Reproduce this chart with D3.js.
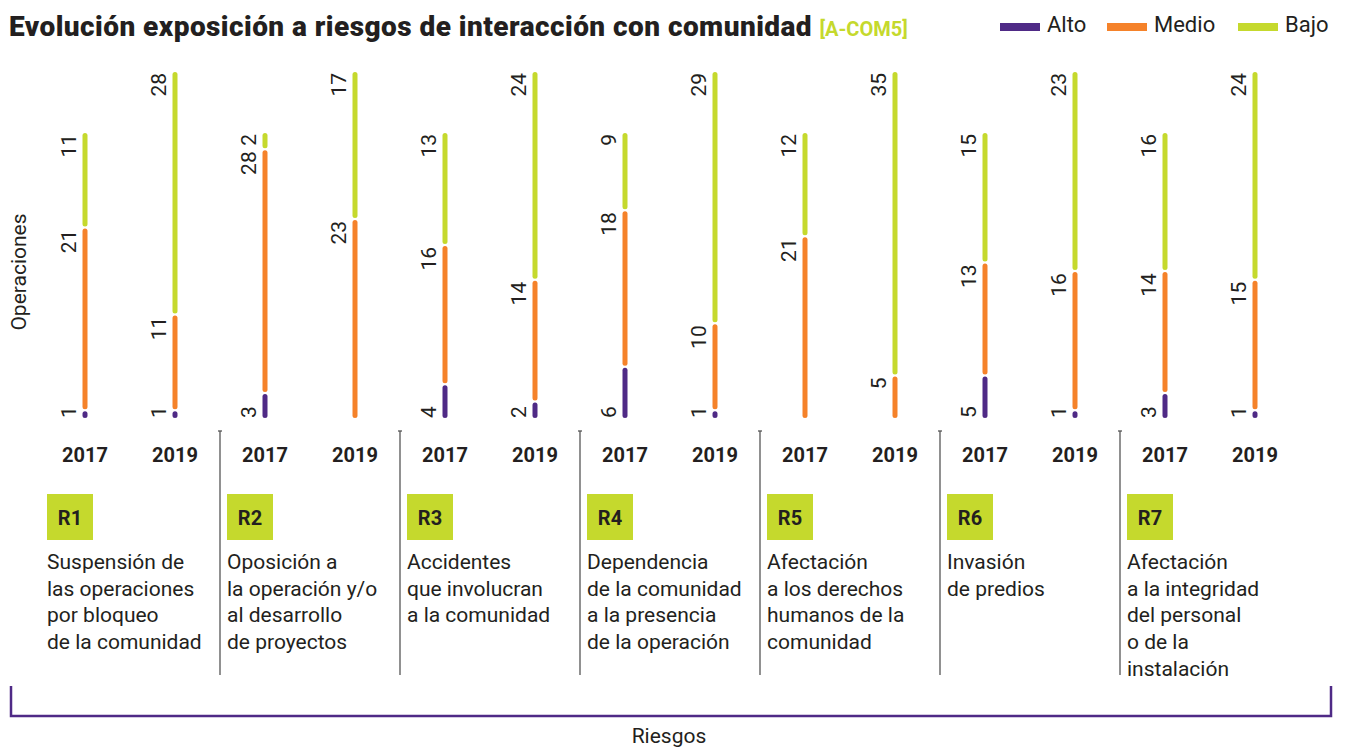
<!DOCTYPE html>
<html>
<head>
<meta charset="utf-8">
<script src="https://cdn.jsdelivr.net/npm/d3@7"></script>
<style>
  html, body { margin: 0; padding: 0; background: #fff; }
  svg { display: block; font-family: Roboto, "Noto Sans", sans-serif; }
</style>
</head>
<body>
<svg id="chart" width="1345" height="748"></svg>
<script>
// Risk codes and their descriptions (one entry per line)
const risks = ["R1", "R2", "R3", "R4", "R5", "R6", "R7"];
const riskNames = [
  ["Suspensión de", "las operaciones", "por bloqueo", "de la comunidad"],
  ["Oposición a", "la operación y/o", "al desarrollo", "de proyectos"],
  ["Accidentes", "que involucran", "a la comunidad"],
  ["Dependencia", "de la comunidad", "a la presencia", "de la operación"],
  ["Afectación", "a los derechos", "humanos de la", "comunidad"],
  ["Invasión", "de predios"],
  ["Afectación", "a la integridad", "del personal", "o de la", "instalación"]
];
const years = ["2017", "2019"];
const levels = ["Alto", "Medio", "Bajo"];

// Operations per risk level, in risk order R1..R7
const alto2017  = [1, 3, 4, 6, 0, 5, 3];
const medio2017 = [21, 28, 16, 18, 21, 13, 14];
const bajo2017  = [11, 2, 13, 9, 12, 15, 16];
const alto2019  = [1, 0, 2, 1, 0, 1, 1];
const medio2019 = [11, 23, 14, 10, 5, 16, 15];
const bajo2019  = [28, 17, 24, 29, 35, 23, 24];

const colors = { Alto: "#4f2a86", Medio: "#f5822a", Bajo: "#c5d92d" };
const textColor = "#231f20";

// Build one row per bar
const rows = [];
risks.forEach((r, i) => {
  rows.push({ risk: r, year: "2017", Alto: alto2017[i], Medio: medio2017[i], Bajo: bajo2017[i] });
  rows.push({ risk: r, year: "2019", Alto: alto2019[i], Medio: medio2019[i], Bajo: bajo2019[i] });
});

const stacked = d3.stack().keys(levels)(rows);

const svg = d3.select("#chart");

const x0 = d3.scaleBand().domain(risks).range([40, 1300]).padding(0);
const x1 = d3.scalePoint().domain(years).range([0, x0.bandwidth()]).padding(0.5);
const y = d3.scaleLinear().domain([0, 40]).range([419, 71]);

const barX = d => x0(d.data.risk) + x1(d.data.year);

// Title
const title = svg.append("text")
  .attr("x", 9).attr("y", 36)
  .attr("font-size", 28).attr("font-weight", 900)
  .attr("letter-spacing", 0.45)
  .attr("fill", textColor);
title.append("tspan").text("Evolución exposición a riesgos de interacción con comunidad ");
title.append("tspan").attr("font-size", 20).attr("font-weight", 700)
  .attr("letter-spacing", 0).attr("fill", "#c5d92d").text("[A-COM5]");

// Legend
const legendX = [1000, 1107, 1238];
const legend = svg.append("g").selectAll("g").data(levels).join("g")
  .attr("transform", (d, i) => `translate(${legendX[i]},0)`);
legend.append("rect").attr("x", 0).attr("y", 23).attr("width", 40).attr("height", 8)
  .attr("fill", d => colors[d]);
legend.append("text").attr("x", 47).attr("y", 32)
  .attr("font-size", 22).attr("fill", textColor).text(d => d);

// Y axis title
svg.append("text")
  .attr("transform", "translate(26,272) rotate(-90)")
  .attr("text-anchor", "middle")
  .attr("font-size", 21).attr("fill", textColor)
  .text("Operaciones");

// Bars: each stacked segment is a rounded thin line with a small gap
const gap = 1, cap = 2.5;
const layers = svg.append("g").selectAll("g").data(stacked).join("g")
  .attr("stroke", d => colors[d.key]);

layers.selectAll("line")
  .data(d => d.filter(s => s[1] - s[0] > 0))
  .join("line")
  .attr("x1", barX).attr("x2", barX)
  .attr("y1", s => y(s[0]) - gap - cap)
  .attr("y2", s => y(s[1]) + gap + cap)
  .attr("stroke-width", 5)
  .attr("stroke-linecap", "round");

// Value labels, rotated; Alto sits at the base, the others at the segment top
stacked.forEach(layer => {
  svg.append("g").selectAll("text")
    .data(layer.filter(s => s[1] - s[0] > 0))
    .join("text")
    .attr("transform", s => {
      const yy = layer.key === "Alto" ? y(s[0]) - 1 : y(s[1]) + 2;
      return `translate(${barX(s) - 9},${yy}) rotate(-90)`;
    })
    .attr("text-anchor", layer.key === "Alto" ? "start" : "end")
    .attr("font-size", 21).attr("fill", textColor)
    .text(s => s[1] - s[0]);
});

// Year labels
const yearAxis = svg.append("g");
risks.forEach(r => {
  years.forEach(yr => {
    yearAxis.append("text")
      .attr("x", x0(r) + x1(yr)).attr("y", 462)
      .attr("text-anchor", "middle")
      .attr("font-size", 20).attr("font-weight", 700).attr("fill", textColor)
      .text(yr);
  });
});

// Separators between risk groups
const seps = svg.append("g").attr("stroke", "#555").attr("stroke-width", 1.3);
risks.slice(1).forEach(r => {
  const sx = x0(r);
  seps.append("line").attr("x1", sx).attr("x2", sx).attr("y1", 431).attr("y2", 675);
  seps.append("line").attr("x1", sx - 2).attr("x2", sx + 2).attr("y1", 431).attr("y2", 431);
});

// Risk code badges and descriptions
const groups = svg.append("g").selectAll("g").data(risks).join("g")
  .attr("transform", r => `translate(${x0(r) + 7},0)`);
groups.append("rect").attr("x", 0).attr("y", 494).attr("width", 46).attr("height", 46)
  .attr("fill", "#c5d92d");
groups.append("text").attr("x", 23).attr("y", 525)
  .attr("text-anchor", "middle")
  .attr("font-size", 20).attr("font-weight", 700).attr("fill", textColor)
  .text(r => r);
groups.append("text")
  .attr("font-size", 21).attr("fill", textColor)
  .selectAll("tspan")
  .data((r, i) => riskNames[i])
  .join("tspan")
  .attr("x", 0)
  .attr("y", (d, i) => 569 + i * 26.7)
  .text(d => d);

// Bracket spanning all risks
svg.append("path")
  .attr("d", "M11,686 V716 H1331 V686")
  .attr("fill", "none").attr("stroke", "#4f2a86").attr("stroke-width", 2.5);

svg.append("text")
  .attr("x", 669).attr("y", 743)
  .attr("text-anchor", "middle")
  .attr("font-size", 21).attr("fill", textColor)
  .text("Riesgos");
</script>
</body>
</html>
